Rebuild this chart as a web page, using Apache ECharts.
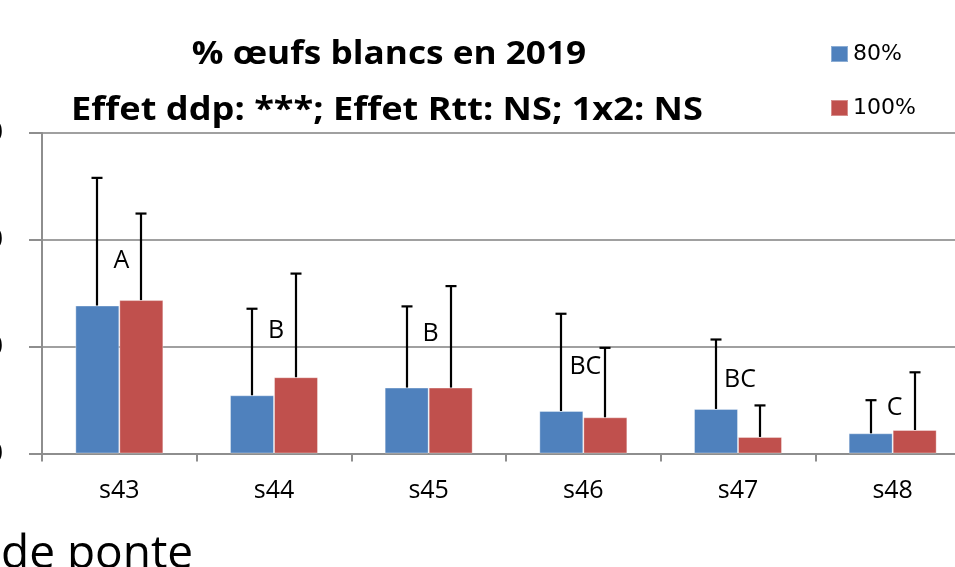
<!DOCTYPE html>
<html>
<head>
<meta charset="utf-8">
<script src="https://cdn.jsdelivr.net/npm/echarts@6/dist/echarts.min.js"></script>
<style>html,body{margin:0;padding:0;background:#fff;}#c{width:955px;height:567px;}</style>
</head>
<body>
<div id="c"></div>
<script>
const categories = ['s43', 's44', 's45', 's46', 's47', 's48'];
const seriesNames = ['80%', '100%'];
const mean80 = [13.85, 5.45, 6.17, 3.98, 4.17, 1.89];
const sd80 = [11.95, 8.1, 7.6, 9.1, 6.5, 3.1];
const mean100 = [14.36, 7.14, 6.17, 3.39, 1.55, 2.2];
const sd100 = [8.1, 9.7, 9.5, 6.5, 2.95, 5.4];
const letters = ['A', 'B', 'B', 'BC', 'BC', 'C'];
const letterLevel = [18.0, 11.5, 11.2, 8.1, 6.9, 4.3];
const yTicks = [0, 10, 20, 30];

const BAR_W = 44;
const errData = (m, s) => m.map((v, i) => [i, v, s[i]]);

function errRender(offset) {
  return function (params, api) {
    const i = api.value(0), m = api.value(1), s = api.value(2);
    const p0 = api.coord([i, m]);
    const p1 = api.coord([i, m + s]);
    const cx = Math.round(p0[0] + offset);
    return {
      type: 'group',
      children: [
        { type: 'line', shape: { x1: cx, y1: p0[1], x2: cx, y2: p1[1] }, style: { stroke: '#000', lineWidth: 2.2 } },
        { type: 'line', shape: { x1: cx - 5.5, y1: p1[1], x2: cx + 5.5, y2: p1[1] }, style: { stroke: '#000', lineWidth: 2.2 } }
      ]
    };
  };
}

const chart = echarts.init(document.getElementById('c'), null, { renderer: 'canvas' });
chart.setOption({
  animation: false,
  color: ['#4F81BD', '#C0504D'],
  grid: { left: 42, right: -15, top: 133, bottom: 113.5, containLabel: false, outerBoundsMode: 'none' },
  legend: {
    data: seriesNames,
    orient: 'vertical',
    left: 830, top: 43, padding: 0,
    itemWidth: 17, itemHeight: 16, itemGap: 32,
    icon: 'rect',
    textStyle: { fontFamily: 'DejaVu Sans', fontSize: 22, color: '#000', lineHeight: 16 }
  },
  xAxis: {
    type: 'category',
    data: categories,
    axisLine: { lineStyle: { color: '#8e8e8e', width: 2 } },
    axisTick: { show: true, length: 8, lineStyle: { color: '#8e8e8e', width: 2 } },
    axisLabel: { fontFamily: 'Open Sans', fontSize: 25, color: '#000', margin: 25 }
  },
  yAxis: {
    type: 'value',
    min: 0, max: 30, interval: 10,
    axisLine: { show: true, lineStyle: { color: '#8e8e8e', width: 2 } },
    axisTick: { show: true, length: 13, lineStyle: { color: '#8e8e8e', width: 2 } },
    splitLine: { show: true, lineStyle: { color: '#a0a0a0', width: 2 } },
    axisLabel: {
      fontFamily: 'Open Sans', fontSize: 25, color: '#000', margin: 39,
      formatter: v => (yTicks.indexOf(v) >= 0 ? String(v) : '')
    }
  },
  series: [
    {
      name: seriesNames[0], type: 'bar', data: mean80, barWidth: BAR_W, barGap: '0%',
      itemStyle: { borderColor: 'rgba(255,255,255,0.35)', borderWidth: 1 }
    },
    {
      name: seriesNames[1], type: 'bar', data: mean100, barWidth: BAR_W, barGap: '0%',
      itemStyle: { borderColor: 'rgba(255,255,255,0.35)', borderWidth: 1 }
    },
    {
      type: 'custom', data: errData(mean80, sd80), renderItem: errRender(-BAR_W / 2),
      encode: { x: 0, y: 1 }, z: 5, silent: true
    },
    {
      type: 'custom', data: errData(mean100, sd100), renderItem: errRender(BAR_W / 2),
      encode: { x: 0, y: 1 }, z: 5, silent: true
    },
    {
      type: 'custom',
      data: letters.map((t, i) => [i, letterLevel[i], t]),
      encode: { x: 0, y: 1 }, z: 6, silent: true,
      renderItem: function (params, api) {
        const p = api.coord([api.value(0), api.value(1)]);
        return {
          type: 'text', x: p[0] + 2, y: p[1],
          style: {
            text: letters[params.dataIndex], fill: '#000',
            font: '25px "Open Sans"', align: 'center', verticalAlign: 'middle',
            textAlign: 'center', textVerticalAlign: 'middle'
          }
        };
      }
    }
  ],
  graphic: [
    {
      type: 'text', x: 389, y: 55, scaleX: 1.1,
      style: { text: '% œufs blancs en 2019', font: 'bold 32px "Open Sans"', fill: '#000',
        align: 'center', verticalAlign: 'middle', textAlign: 'center', textVerticalAlign: 'middle' }
    },
    {
      type: 'text', x: 387, y: 111, scaleX: 1.13,
      style: { text: 'Effet ddp: ***; Effet Rtt: NS; 1x2: NS', font: 'bold 32px "Open Sans"', fill: '#000',
        align: 'center', verticalAlign: 'middle', textAlign: 'center', textVerticalAlign: 'middle' }
    },
    {
      type: 'text', x: 1, y: 555,
      style: { text: 'de ponte', font: '46px "Open Sans"', fill: '#000',
        align: 'left', verticalAlign: 'middle', textAlign: 'left', textVerticalAlign: 'middle' }
    }
  ]
});
</script>
</body>
</html>
